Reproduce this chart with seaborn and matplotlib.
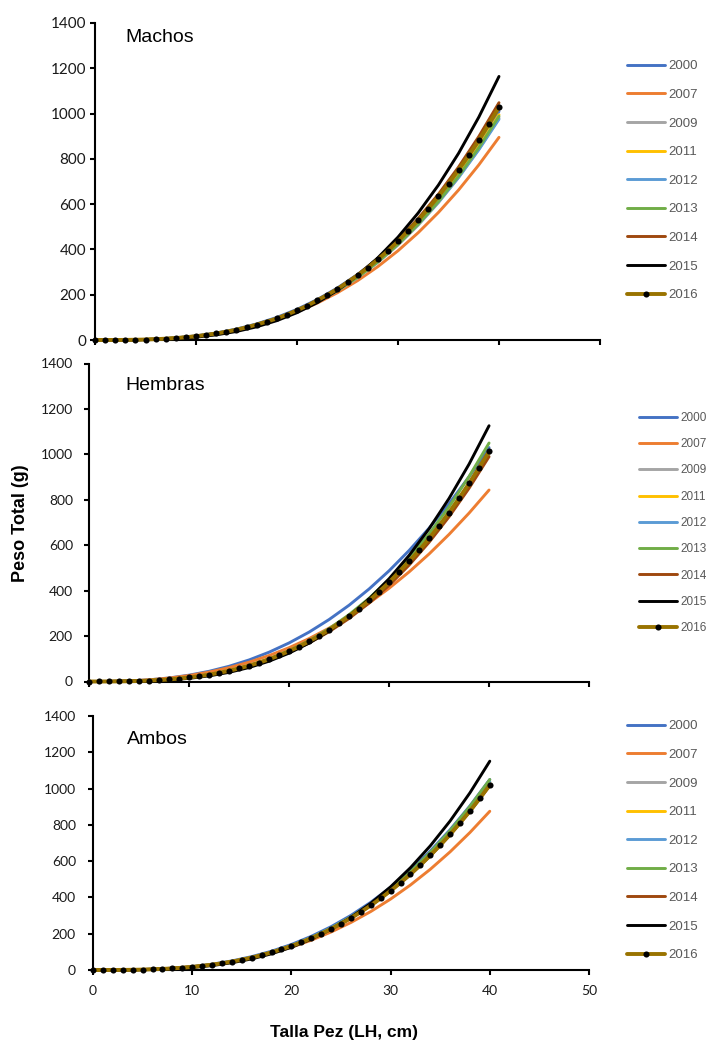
import matplotlib
matplotlib.use("Agg")
import matplotlib.pyplot as plt
import seaborn as sns
import pandas as pd
from matplotlib import font_manager
from matplotlib.lines import Line2D

# ---------------- data ----------------
years = ["2000", "2007", "2009", "2011", "2012", "2013", "2014", "2015", "2016"]
colors = ["#4472C4", "#ED7D31", "#A5A5A5", "#FFC000", "#5B9BD5",
          "#70AD47", "#9E480E", "#000000", "#997300"]

talla_lineas = [0, 2, 4, 6, 8, 10, 12, 14, 16, 18, 20, 22, 24, 26, 28, 30, 32, 34, 36, 38, 40]
talla_2016 = list(range(0, 41))

# Machos
m2000 = [0, 0.17, 1.3, 4.1, 9.5, 18.1, 30.8, 48.1, 70.9, 99.7, 135.3, 178.4, 229.6, 289.6, 359.0, 438.5, 528.8, 630.5, 744.0, 870.4, 1010]
m2007 = [0, 0.18, 1.3, 4.0, 9.1, 17.2, 29.0, 44.9, 65.8, 91.9, 124.2, 162.9, 208.8, 262.2, 323.9, 394.2, 473.9, 563.2, 662.7, 773.3, 895]
m2009 = [0, 0.14, 1.1, 3.6, 8.5, 16.4, 28.1, 44.3, 65.7, 92.9, 126.8, 168.0, 217.1, 275.0, 342.1, 419.4, 507.3, 606.8, 718.0, 842.4, 980]
m2011 = [0, 0.14, 1.1, 3.7, 8.6, 16.7, 28.5, 45.0, 66.7, 94.4, 128.8, 170.6, 220.4, 279.2, 347.4, 425.8, 515.1, 616.1, 729.0, 855.3, 995]
m2012 = [0, 0.16, 1.2, 4.0, 9.2, 17.5, 29.7, 46.4, 68.4, 96.2, 130.7, 172.2, 221.6, 279.5, 346.5, 423.3, 510.5, 608.6, 718.2, 840.2, 975]
m2013 = [0, 0.14, 1.1, 3.7, 8.6, 16.5, 28.3, 44.6, 66.2, 93.7, 127.8, 169.4, 218.8, 277.2, 344.9, 422.8, 511.5, 611.7, 723.9, 849.2, 988]
m2014 = [0, 0.13, 1.0, 3.5, 8.4, 16.4, 28.3, 44.9, 67.1, 95.5, 131.0, 174.4, 226.4, 287.8, 359.5, 442.1, 536.6, 643.6, 764.0, 898.5, 1048]
m2015 = [0, 0.06, 0.6, 2.4, 6.0, 12.5, 22.7, 37.6, 58.2, 85.5, 120.7, 164.8, 219.1, 284.6, 362.7, 454.4, 561.2, 684.2, 824.7, 984.2, 1164]
m2016 = [0, 0.02, 0.14, 0.47, 1.1, 2.1, 3.7, 5.8, 8.6, 12.3, 16.8, 22.2, 28.8,
         36.5, 45.5, 55.9, 68, 81, 95, 112, 131, 151, 175, 199, 225, 255, 286,
         319, 356, 394, 436, 482, 529, 580, 634, 691, 752, 815, 882, 954, 1028]

# Hembras
h2000 = [0, 0.43, 2.6, 7.4, 15.7, 28.0, 45.0, 67.2, 95.1, 129.2, 170.0, 217.7, 273.0, 336.0, 407.5, 487.5, 576.7, 675.1, 783.1, 901.4, 1030]
h2007 = [0, 0.47, 2.7, 7.3, 15.1, 26.3, 41.6, 61.1, 85.3, 114.5, 149.0, 189.1, 235.1, 287.2, 345.6, 410.7, 482.5, 561.5, 647.8, 741.5, 843]
h2009 = [0, 0.17, 1.3, 4.1, 9.4, 17.9, 30.5, 47.6, 70.2, 98.7, 134.0, 176.7, 227.3, 286.7, 355.4, 434.2, 523.6, 624.2, 736.6, 861.7, 1000]
h2011 = [0, 0.17, 1.3, 4.1, 9.4, 18.0, 30.6, 47.9, 70.5, 99.2, 134.7, 177.5, 228.4, 288.1, 357.2, 436.4, 526.2, 627.3, 740.3, 866.1, 1005]
h2012 = [0, 0.15, 1.1, 3.7, 8.8, 16.9, 29.0, 45.6, 67.7, 95.8, 130.7, 173.1, 223.7, 283.4, 352.6, 432.3, 522.9, 625.3, 740.0, 868.2, 1010]
h2013 = [0, 0.15, 1.2, 3.9, 9.1, 17.6, 30.1, 47.4, 70.4, 99.6, 135.9, 180.0, 232.6, 294.6, 366.6, 449.4, 543.6, 650.1, 769.3, 902.5, 1050]
h2014 = [0, 0.14, 1.1, 3.7, 8.6, 16.6, 28.4, 44.7, 66.3, 93.9, 128.1, 169.7, 219.3, 277.8, 345.6, 423.7, 512.5, 613.0, 725.4, 851.0, 990]
h2015 = [0, 0.08, 0.8, 2.8, 6.9, 13.9, 24.8, 40.4, 61.7, 89.6, 125.1, 169.3, 223.0, 287.4, 363.6, 452.4, 555.1, 672.7, 806.2, 957.0, 1126]
h2016 = [0, 0.02, 0.16, 0.53, 1.2, 2.3, 4.0, 6.3, 9.2, 13.0, 17.7, 23.4, 30.1,
         38.1, 47.3, 57.8, 70, 83, 98, 115, 134, 154, 177, 201, 227, 257, 288,
         321, 357, 396, 437, 483, 529, 577, 630, 686, 744, 807, 872, 942, 1013]

# Ambos
a2000 = [0, 0.18, 1.3, 4.3, 9.9, 18.8, 32.0, 50.0, 73.7, 103.6, 140.7, 185.5, 238.7, 301.0, 373.2, 455.9, 549.8, 655.4, 773.4, 904.8, 1050]
a2007 = [0, 0.20, 1.4, 4.3, 9.7, 18.0, 30.1, 46.3, 67.3, 93.5, 125.7, 164.1, 209.4, 261.9, 322.3, 391.0, 468.5, 555.1, 651.4, 758.0, 875]
a2009 = [0, 0.15, 1.2, 3.8, 8.9, 17.2, 29.5, 46.5, 69.0, 97.7, 133.3, 176.6, 228.1, 289.0, 359.6, 440.8, 533.2, 637.7, 754.7, 885.3, 1030]
a2011 = [0, 0.15, 1.2, 3.8, 9.0, 17.3, 29.7, 46.8, 69.3, 98.2, 133.9, 177.4, 229.3, 290.4, 361.3, 443.0, 535.8, 640.8, 758.3, 889.6, 1035]
a2012 = [0, 0.15, 1.2, 3.9, 9.0, 17.4, 29.8, 47.0, 69.7, 98.6, 134.6, 178.3, 230.4, 291.8, 363.1, 445.1, 538.4, 643.9, 762.0, 893.9, 1040]
a2013 = [0, 0.14, 1.1, 3.8, 8.8, 17.1, 29.4, 46.5, 69.1, 98.0, 134.1, 177.9, 230.4, 292.1, 364.0, 446.8, 541.3, 648.0, 767.9, 901.6, 1050]
a2014 = [0, 0.15, 1.1, 3.8, 8.8, 17.0, 29.1, 45.9, 68.0, 96.3, 131.3, 174.0, 224.8, 284.8, 354.3, 434.4, 525.5, 628.4, 743.7, 872.4, 1015]
a2015 = [0, 0.08, 0.7, 2.7, 6.7, 13.6, 24.4, 40.0, 61.3, 89.4, 125.3, 169.9, 224.4, 290.0, 367.6, 458.4, 563.6, 684.3, 821.5, 976.8, 1151]
a2016 = [0, 0.02, 0.15, 0.49, 1.1, 2.2, 3.8, 6.0, 8.8, 12.5, 17.1, 22.6, 29.2,
         37.0, 46.1, 56.5, 68, 82, 97, 114, 132, 152, 175, 199, 226, 255, 286,
         320, 356, 395, 437, 481, 528, 578, 632, 688, 748, 811, 877, 947, 1021]

x_ticks = [0, 10, 20, 30, 40, 50]
y_ticks = [0, 200, 400, 600, 800, 1000, 1200, 1400]

# ---------------- style ----------------
sns.set_style("ticks")
avail = {f.name for f in font_manager.fontManager.ttflist}
HAS_NARROW = "Liberation Sans Narrow" in avail
NARROW = "Liberation Sans Narrow" if HAS_NARROW else "Liberation Sans"
TICKFONT = "Lato" if "Lato" in avail else "DejaVu Sans"
plt.rcParams["font.family"] = ["Liberation Sans", "DejaVu Sans"]

W, H = 706, 1044
fig = plt.figure(figsize=(W / 100, H / 100), dpi=100)


def px_rect(left, right, top, bottom):
    return [left / W, 1 - bottom / H, (right - left) / W, (bottom - top) / H]


def legend_kw(fs, row_px, handle_px, pad_px):
    fs_px = fs * 100 / 72
    text_h = 0.95 * fs_px
    return dict(handlelength=handle_px / fs_px, handletextpad=pad_px / fs_px,
                labelspacing=(row_px - text_h) / fs_px), text_h


leg_fs_big = 11 if HAS_NARROW else 9.5
leg_fs_small = 9.5 if HAS_NARROW else 8.5
title_fs = 15 if HAS_NARROW else 14

panels = [
    dict(name="Machos", data=[m2000, m2007, m2009, m2011, m2012, m2013, m2014, m2015],
         d2016=m2016, rect=px_rect(95, 600, 23, 340), title_xy=(0.061, 0.953),
         ypad=2.5, tick_fs=11, xlabels=False,
         leg=(627, 66.5, 28.9, leg_fs_big)),
    dict(name="Hembras", data=[h2000, h2007, h2009, h2011, h2012, h2013, h2014, h2015],
         d2016=h2016, rect=px_rect(89.3, 589, 363.5, 681.5), title_xy=(0.073, 0.932),
         ypad=8.0, tick_fs=10, xlabels=False,
         leg=(639, 417.5, 25.5, leg_fs_small)),
    dict(name="Ambos", data=[a2000, a2007, a2009, a2011, a2012, a2013, a2014, a2015],
         d2016=a2016, rect=px_rect(93, 589, 716, 970), title_xy=(0.068, 0.909),
         ypad=8.5, tick_fs=10, xlabels=True,
         leg=(627, 726.5, 28.9, leg_fs_big)),
]

for p in panels:
    ax = fig.add_axes(p["rect"])
    rows = []
    for yr, vals in zip(years[:8], p["data"]):
        for t, v in zip(talla_lineas, vals):
            rows.append((t, v, yr))
    df = pd.DataFrame(rows, columns=["Talla", "Peso", "Año"])
    sns.lineplot(data=df, x="Talla", y="Peso", hue="Año", hue_order=years[:8],
                 palette=dict(zip(years[:8], colors[:8])), estimator=None,
                 linewidth=2.1, legend=False, ax=ax, clip_on=False)
    df16 = pd.DataFrame({"Talla": talla_2016, "Peso": p["d2016"]})
    sns.lineplot(data=df16, x="Talla", y="Peso", estimator=None, color=colors[8],
                 linewidth=2.8, marker="o", markersize=4.4, markerfacecolor="black",
                 markeredgecolor="black", markeredgewidth=0, legend=False, ax=ax,
                 clip_on=False, zorder=5)

    ax.set_xlim(0, 50)
    ax.set_ylim(0, 1400)
    ax.set_xticks(x_ticks)
    ax.set_yticks(y_ticks)
    ax.set_xlabel("")
    ax.set_ylabel("")
    for s in ["top", "right"]:
        ax.spines[s].set_visible(False)
    for s in ["left", "bottom"]:
        ax.spines[s].set_linewidth(1.5)
        ax.spines[s].set_color("black")
    ax.tick_params(axis="both", direction="out", length=3.8, width=1.5, color="black")
    ax.tick_params(axis="y", pad=p["ypad"], labelsize=p["tick_fs"], labelcolor="#1a1a1a")
    ax.tick_params(axis="x", pad=7, labelsize=p["tick_fs"], labelcolor="#1a1a1a",
                   labelbottom=p["xlabels"])
    for lab in ax.get_xticklabels() + ax.get_yticklabels():
        lab.set_family([TICKFONT, "DejaVu Sans"])

    ax.text(p["title_xy"][0], p["title_xy"][1], p["name"], transform=ax.transAxes,
            ha="left", va="center", fontsize=title_fs,
            family=[NARROW, "DejaVu Sans"], color="black")

    lx, ly, row_px, lfs = p["leg"]
    kw, th = legend_kw(lfs, row_px, 38, 3)
    handles = [Line2D([], [], color=c, lw=2.1) for c in colors[:8]]
    handles.append(Line2D([], [], color=colors[8], lw=2.8, marker="o",
                          markersize=4.4, markerfacecolor="black",
                          markeredgecolor="black", markeredgewidth=0))
    ax.legend(handles, years, loc="upper left",
              bbox_to_anchor=(lx / W, 1 - (ly - th / 2) / H),
              bbox_transform=fig.transFigure, frameon=False, borderaxespad=0,
              borderpad=0, numpoints=1, labelcolor="#595959",
              prop=dict(family=[NARROW, "DejaVu Sans"], size=lfs), **kw)

fig.text(21 / W, 1 - 523 / H, "Peso Total (g)", rotation=90, ha="center", va="center",
         fontsize=13, fontweight="bold", color="black")
fig.text(344 / W, 1 - 1032 / H, "Talla Pez (LH, cm)", ha="center", va="center",
         fontsize=12.5, fontweight="bold", color="black")

fig.savefig("out.png", dpi=100)
